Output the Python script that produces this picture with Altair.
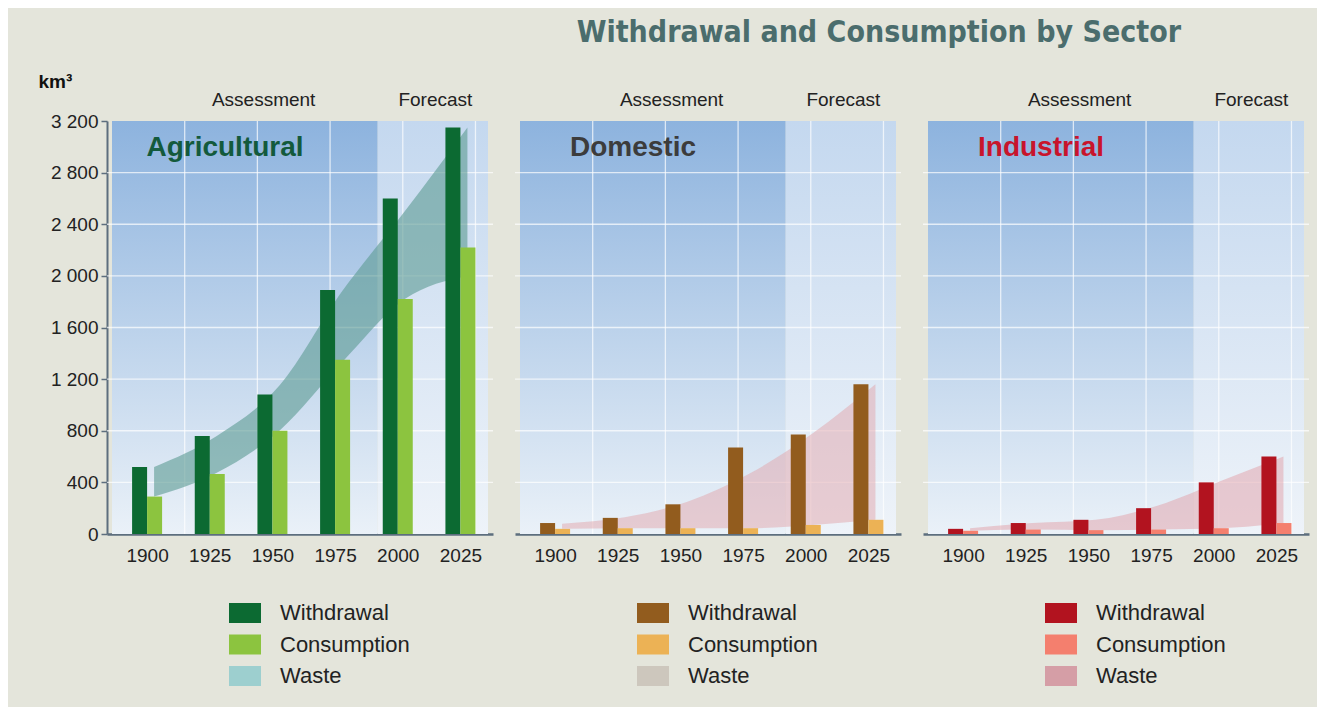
import altair as alt
import pandas as pd

# ---------------- data ----------------
years = [1900, 1925, 1950, 1975, 2000, 2025]
series_names = ["Withdrawal", "Consumption", "Waste"]
sector_names = ["Agricultural", "Domestic", "Industrial"]
period_labels = ["Assessment", "Forecast"]
period_label_years = [1946.5, 2015]

agri_withdrawal = [520, 760, 1080, 1890, 2600, 3150]
agri_consumption = [290, 465, 800, 1350, 1820, 2220]
agri_waste_high = [520, 760, 1150, 1880, 2500, 3150]
agri_waste_low = [290, 475, 800, 1330, 1820, 2000]

dom_withdrawal = [85, 125, 230, 670, 770, 1160]
dom_consumption = [40, 45, 45, 45, 70, 110]
dom_waste_high = [80, 130, 250, 470, 780, 1160]
dom_waste_low = [40, 45, 45, 45, 70, 110]

ind_withdrawal = [40, 85, 110, 200, 400, 600]
ind_consumption = [25, 35, 30, 35, 45, 85]
ind_waste_high = [45, 85, 110, 220, 410, 600]
ind_waste_low = [25, 35, 30, 35, 45, 85]

y_ticks = [0, 400, 800, 1200, 1600, 2000, 2400, 2800, 3200]
grid_years = [1915, 1944, 1973, 2002, 2031]
x_domain = [1886, 2036]
forecast_start = 1992
y_max = 3200

W, H = 386, 413
FONT = "Liberation Sans, Arial, sans-serif"
AXIS_COLOR = "#5d6e7e"


def grad(top, bottom):
    return alt.LinearGradient(
        gradient="linear",
        stops=[alt.GradientStop(color=top, offset=0), alt.GradientStop(color=bottom, offset=1)],
        x1=0, x2=0, y1=0, y2=1,
    )


def panel(name, withdrawal, consumption, hi, lo, colors, area_color, area_opacity, name_color, show_y):
    xscale = alt.Scale(domain=x_domain, nice=False, zero=False)
    yscale = alt.Scale(domain=[0, y_max], nice=False)
    x_axis = alt.Axis(values=years, format="d", grid=False, ticks=False, domainColor=AXIS_COLOR,
                      domainWidth=2.5, labelFontSize=19, labelColor="#222", labelPadding=12,
                      labelFont=FONT, title=None)
    if show_y:
        y_axis = alt.Axis(values=y_ticks, labelExpr="replace(format(datum.value, ','), ',', ' ')",
                          grid=False, ticks=True, tickSize=6, tickColor=AXIS_COLOR, tickWidth=1.5,
                          domainColor=AXIS_COLOR, domainWidth=2, labelFontSize=19, labelColor="#222",
                          labelPadding=3, labelFont=FONT, title="km³", titleAngle=0, titleAlign="left",
                          titleBaseline="middle", titleX=-69, titleY=-40, titleFontSize=19,
                          titleFontWeight="bold", titleColor="#111", titleFont=FONT)
    else:
        y_axis = None

    def X(field):
        return alt.X(field, type="quantitative", scale=xscale, axis=x_axis)

    def Y(field):
        return alt.Y(field, type="quantitative", scale=yscale, axis=y_axis)

    region = pd.DataFrame({"x0": [x_domain[0], forecast_start], "x1": [forecast_start, x_domain[1]],
                           "period": period_labels})
    bg_assess = alt.Chart(region).transform_filter(alt.datum.period == "Assessment").mark_rect(
        fill=grad("#8db3de", "#eaf1f8")).encode(
        x=X("x0"), x2="x1", y=alt.Y(datum=y_max, type="quantitative", scale=yscale, axis=y_axis), y2=alt.datum(0))
    bg_fore = alt.Chart(region).transform_filter(alt.datum.period == "Forecast").mark_rect(
        fill=grad("#c4d8ef", "#eef3f9")).encode(
        x=X("x0"), x2="x1", y=alt.Y(datum=y_max, type="quantitative", scale=yscale, axis=y_axis), y2=alt.datum(0))

    hgrid = alt.Chart(pd.DataFrame({"v": y_ticks[1:-1]})).mark_rule(
        color="white", opacity=0.7, strokeWidth=1.3).encode(y=Y("v"))
    vgrid = alt.Chart(pd.DataFrame({"g": grid_years})).mark_rule(
        color="white", opacity=0.7, strokeWidth=1.3).encode(x=X("g"))

    band = pd.DataFrame({"year": years, "hi": hi, "lo": lo})
    area = alt.Chart(band).mark_area(interpolate="monotone", xOffset=7, color=area_color,
                                     opacity=area_opacity).encode(x=X("year"), y=Y("hi"), y2="lo")

    bars_df = pd.DataFrame({"year": years * 2, "value": withdrawal + consumption,
                            "series": ["Withdrawal"] * len(years) + ["Consumption"] * len(years)})
    color = alt.Color("series:N", scale=alt.Scale(domain=series_names, range=colors),
                      legend=alt.Legend(orient="none", legendX=127, legendY=H + 68, title=None,
                                        symbolType="M-1.6,-1H1.6V1H-1.6Z", symbolSize=400,
                                        symbolStrokeWidth=0, symbolOpacity=1, labelFontSize=22,
                                        labelFont=FONT, labelColor="#222", labelOffset=24,
                                        rowPadding=9.5, direction="vertical"))
    bars_w = alt.Chart(bars_df).transform_filter(alt.datum.series == "Withdrawal").mark_bar(
        width=15, xOffset=-7.5).encode(x=X("year"), y=Y("value"), color=color)
    bars_c = alt.Chart(bars_df).transform_filter(alt.datum.series == "Consumption").mark_bar(
        width=15, xOffset=7.5).encode(x=X("year"), y=Y("value"), color=color)

    label = alt.Chart(pd.DataFrame({"t": [name]})).mark_text(
        align="center", baseline="middle", fontSize=28, fontWeight="bold", font=FONT, color=name_color
    ).encode(text="t:N", x=alt.value(118), y=alt.value(27))

    periods = alt.Chart(pd.DataFrame({"p": period_labels, "yr": period_label_years})).mark_text(
        baseline="middle", fontSize=19, font=FONT, color="#222"
    ).encode(text="p:N", x=X("yr"), y=alt.value(-21))

    return alt.layer(bg_assess, bg_fore, hgrid, vgrid, area, bars_w, bars_c, label, periods).properties(
        width=W, height=H)


p1 = panel(sector_names[0], agri_withdrawal, agri_consumption, agri_waste_high, agri_waste_low,
           ["#0c6a32", "#8cc43f", "#9dcfcf"], "#5f9c94", 0.62, "#135a3c", True)
p2 = panel(sector_names[1], dom_withdrawal, dom_consumption, dom_waste_high, dom_waste_low,
           ["#925c1e", "#ecb255", "#cdc7bd"], "#e2a6ac", 0.5, "#3c3c3c", False)
p3 = panel(sector_names[2], ind_withdrawal, ind_consumption, ind_waste_high, ind_waste_low,
           ["#b2131f", "#f47f6e", "#d59ea6"], "#e2a0a8", 0.5, "#c8142c", False)

chart = alt.hconcat(p1, p2, p3, spacing=20).resolve_scale(
    color="independent", x="independent", y="independent").resolve_legend(color="independent").properties(
    title=alt.TitleParams("Withdrawal and Consumption by Sector", fontSize=30,
                          font="Liberation Sans Narrow, DejaVu Sans Condensed, sans-serif",
                          fontWeight="bold", color="#4b6d6d", anchor="middle", dx=205, offset=24),
    padding={"left": 30, "top": 10, "right": 7, "bottom": 20},
).configure(background="#e4e5db").configure_view(stroke=None)

chart.save("out.html", embed_options={"renderer": "svg", "actions": False})
